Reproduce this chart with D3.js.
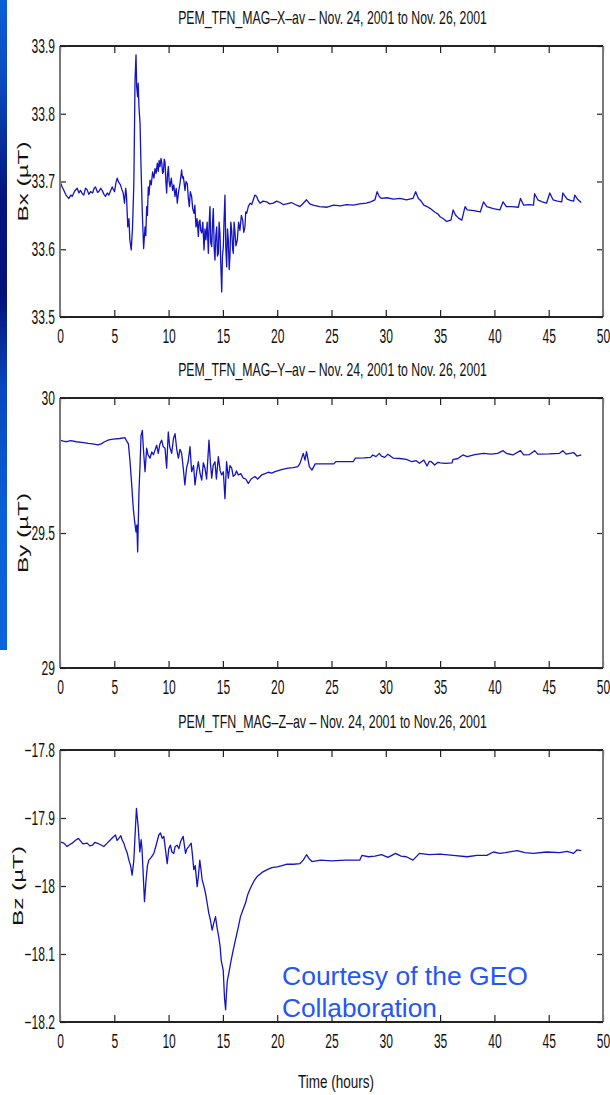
<!DOCTYPE html>
<html>
<head>
<meta charset="utf-8">
<script src="https://cdn.jsdelivr.net/npm/d3@7"></script>
<style>
  html, body { margin: 0; padding: 0; background: #fff; }
  svg { display: block; }
  text { font-family: "Liberation Sans", Arial, sans-serif; fill: #111; }
</style>
</head>
<body>
<svg id="chart" width="610" height="1095"></svg>
<script>
// ---------- DATA ----------
const xTicks = [0, 5, 10, 15, 20, 25, 30, 35, 40, 45, 50];
const titles = [
  "PEM_TFN_MAG–X–av – Nov. 24, 2001 to Nov. 26, 2001",
  "PEM_TFN_MAG–Y–av – Nov. 24, 2001 to Nov. 26, 2001",
  "PEM_TFN_MAG–Z–av – Nov. 24, 2001 to Nov.26, 2001"
];
const yLabels = ["Bx  (µT)", "By  (µT)", "Bz  (µT)"];
const yDomains = [[33.5, 33.9], [29, 30], [-18.2, -17.8]];
const yTicksX = [33.5, 33.6, 33.7, 33.8, 33.9];
const yTicksY = [29, 29.5, 30];
const yTicksZ = [-18.2, -18.1, -18, -17.9, -17.8];
const xLabel = "Time (hours)";
const credit = ["Courtesy of the GEO", "Collaboration"];

const bxT = [0.0,0.2,0.35,0.55,0.81,1.0,1.12,1.35,1.58,1.75,1.89,2.05,2.19,2.35,2.5,2.65,2.81,3.0,3.15,3.27,3.45,3.57,3.75,3.88,4.05,4.19,4.35,4.5,4.65,4.81,5.02,5.15,5.27,5.4,5.57,5.7,5.82,5.94,6.05,6.12,6.24,6.35,6.43,6.56,6.68,6.8,6.91,7.0,7.06,7.15,7.2,7.27,7.37,7.46,7.58,7.70,7.83,7.9,7.98,8.05,8.13,8.2,8.29,8.4,8.53,8.65,8.75,8.85,8.96,9.05,9.13,9.21,9.3,9.36,9.45,9.52,9.6,9.67,9.75,9.82,9.9,9.98,10.05,10.13,10.25,10.37,10.48,10.59,10.7,10.8,10.92,11.05,11.2,11.28,11.36,11.45,11.51,11.6,11.72,11.82,11.91,12.0,12.12,12.22,12.34,12.42,12.52,12.62,12.74,12.8,12.89,12.95,13.05,13.15,13.26,13.35,13.44,13.55,13.66,13.74,13.81,13.88,13.97,14.05,14.12,14.2,14.27,14.35,14.43,14.5,14.58,14.65,14.73,14.8,14.89,14.96,15.04,15.1,15.19,15.27,15.35,15.42,15.5,15.58,15.65,15.73,15.81,15.9,15.96,16.03,16.11,16.2,16.33,16.45,16.57,16.7,16.82,16.92,17.03,17.1,17.19,17.34,17.5,17.65,17.8,17.95,18.11,18.25,18.42,18.7,19.03,19.3,19.64,19.95,20.26,20.55,20.87,21.3,21.8,22.1,22.4,22.7,23.0,23.3,23.9,24.6,25.2,25.8,26.4,27.0,27.6,28.2,28.6,29.0,29.2,29.4,29.6,30.1,30.7,31.3,31.9,32.5,32.75,33.0,33.2,33.5,33.8,34.1,34.5,34.8,35.0,35.3,35.6,36.0,36.2,36.4,36.7,37.0,37.3,37.5,38.1,38.7,39.0,39.3,39.9,40.5,40.8,41.1,41.6,42.2,42.4,42.7,43.2,43.6,43.7,44.0,44.4,44.8,45.1,45.4,45.8,46.2,46.3,46.7,47.0,47.3,47.4,47.7,48.0];
const bxV = [33.700,33.692,33.687,33.680,33.675,33.680,33.678,33.686,33.690,33.683,33.687,33.682,33.680,33.690,33.688,33.681,33.685,33.683,33.690,33.692,33.684,33.685,33.690,33.687,33.681,33.678,33.683,33.680,33.686,33.692,33.685,33.698,33.705,33.699,33.695,33.688,33.683,33.668,33.690,33.680,33.633,33.645,33.614,33.599,33.633,33.697,33.850,33.887,33.840,33.825,33.845,33.810,33.786,33.722,33.653,33.601,33.633,33.620,33.663,33.650,33.692,33.680,33.702,33.695,33.714,33.705,33.719,33.712,33.727,33.715,33.731,33.722,33.734,33.729,33.712,33.714,33.733,33.729,33.700,33.683,33.710,33.722,33.700,33.692,33.705,33.687,33.695,33.678,33.690,33.668,33.685,33.697,33.717,33.705,33.707,33.695,33.687,33.700,33.697,33.675,33.663,33.685,33.678,33.660,33.653,33.665,33.633,33.645,33.619,33.640,33.643,33.628,33.624,33.640,33.599,33.630,33.614,33.640,33.594,33.640,33.663,33.610,33.604,33.640,33.660,33.600,33.584,33.620,33.633,33.590,33.594,33.640,33.624,33.580,33.537,33.590,33.604,33.640,33.680,33.600,33.574,33.630,33.614,33.570,33.589,33.640,33.628,33.600,33.594,33.640,33.626,33.605,33.614,33.640,33.628,33.650,33.643,33.625,33.633,33.655,33.653,33.663,33.668,33.666,33.673,33.680,33.678,33.672,33.668,33.671,33.670,33.667,33.668,33.671,33.669,33.666,33.667,33.669,33.665,33.663,33.668,33.673,33.667,33.665,33.663,33.662,33.665,33.664,33.666,33.665,33.667,33.668,33.670,33.673,33.685,33.678,33.675,33.676,33.674,33.675,33.673,33.675,33.685,33.675,33.672,33.665,33.663,33.660,33.655,33.652,33.648,33.645,33.641,33.643,33.658,33.651,33.646,33.643,33.663,33.658,33.657,33.655,33.670,33.663,33.660,33.658,33.670,33.663,33.663,33.662,33.675,33.665,33.666,33.665,33.682,33.673,33.670,33.668,33.683,33.673,33.671,33.670,33.683,33.674,33.672,33.671,33.680,33.673,33.669];

const byT = [0.0,0.3,0.6,1.0,1.5,2.0,2.6,3.0,3.5,3.8,4.1,4.5,4.9,5.5,5.99,6.14,6.3,6.45,6.6,6.75,6.88,7.0,7.08,7.15,7.27,7.38,7.46,7.58,7.7,7.83,7.98,8.1,8.29,8.45,8.6,8.75,8.9,9.05,9.2,9.36,9.5,9.67,9.82,9.97,10.1,10.28,10.45,10.59,10.75,10.9,11.05,11.2,11.35,11.5,11.65,11.8,11.97,12.12,12.3,12.43,12.6,12.74,12.9,13.05,13.2,13.35,13.5,13.72,13.85,13.97,14.1,14.27,14.4,14.58,14.75,14.88,15.04,15.19,15.34,15.5,15.65,15.81,15.95,16.11,16.25,16.42,16.65,16.88,17.1,17.34,17.6,17.95,18.2,18.57,18.9,19.18,19.5,19.8,20.4,21.0,21.5,21.9,22.1,22.4,22.56,22.7,22.96,23.2,23.5,24.3,25.2,25.4,26.2,27.0,27.2,28.0,28.6,28.8,29.1,29.4,29.6,29.9,30.2,30.7,31.3,31.9,32.4,32.8,33.1,33.5,33.8,34.0,34.2,34.5,34.8,35.0,35.5,36.1,36.2,36.6,37.1,37.5,38.2,39.0,39.7,40.3,40.8,41.1,41.7,42.4,42.7,43.2,43.7,44.0,45.0,46.0,46.3,46.6,47.3,47.6,48.0];
const byV = [29.844,29.840,29.838,29.842,29.838,29.836,29.832,29.830,29.826,29.830,29.838,29.845,29.848,29.850,29.853,29.840,29.830,29.764,29.680,29.590,29.540,29.504,29.530,29.430,29.652,29.760,29.860,29.880,29.800,29.727,29.814,29.790,29.777,29.800,29.790,29.807,29.825,29.795,29.830,29.844,29.820,29.814,29.740,29.874,29.820,29.795,29.850,29.868,29.810,29.777,29.810,29.795,29.740,29.678,29.740,29.764,29.820,29.727,29.750,29.678,29.730,29.764,29.720,29.696,29.760,29.740,29.700,29.844,29.760,29.703,29.750,29.764,29.700,29.783,29.730,29.715,29.727,29.627,29.764,29.703,29.750,29.740,29.710,29.715,29.730,29.715,29.720,29.703,29.700,29.684,29.700,29.709,29.700,29.715,29.720,29.725,29.722,29.727,29.735,29.740,29.742,29.746,29.758,29.795,29.770,29.801,29.746,29.733,29.756,29.756,29.756,29.764,29.764,29.764,29.777,29.778,29.780,29.789,29.783,29.795,29.785,29.780,29.792,29.777,29.776,29.773,29.764,29.768,29.758,29.770,29.748,29.765,29.764,29.752,29.762,29.760,29.758,29.760,29.773,29.775,29.789,29.783,29.790,29.795,29.792,29.795,29.805,29.795,29.789,29.805,29.789,29.790,29.805,29.792,29.793,29.795,29.805,29.792,29.798,29.785,29.789];

const bzT = [0.0,0.35,0.66,0.9,1.12,1.4,1.7,2.1,2.5,2.75,3.0,3.2,3.42,3.7,4.03,4.35,4.65,4.9,5.11,5.25,5.42,5.6,5.72,5.9,6.03,6.2,6.34,6.5,6.64,6.8,6.95,7.04,7.12,7.2,7.35,7.47,7.55,7.63,7.78,7.93,8.05,8.18,8.4,8.64,8.85,9.1,9.25,9.41,9.56,9.7,9.87,10.02,10.17,10.3,10.48,10.6,10.79,10.95,11.1,11.34,11.45,11.56,11.7,11.86,12.08,12.2,12.32,12.45,12.63,12.75,12.87,13.0,13.09,13.25,13.4,13.55,13.7,13.85,14.01,14.15,14.32,14.45,14.62,14.75,14.84,15.03,15.15,15.25,15.32,15.4,15.55,15.7,15.9,16.16,16.4,16.62,16.85,17.08,17.3,17.54,17.85,18.16,18.6,19.08,19.5,20.0,20.45,20.9,21.5,22.1,22.4,22.7,22.95,23.2,24.0,25.0,26.3,27.6,27.8,28.4,29.0,29.6,30.2,30.9,31.4,31.9,32.5,33.1,34.0,35.0,36.2,37.5,38.4,39.3,39.9,40.5,41.0,42.1,42.8,43.6,44.8,46.0,46.7,47.3,47.6,48.0];
const bzV = [-17.935,-17.937,-17.942,-17.939,-17.937,-17.933,-17.930,-17.938,-17.937,-17.941,-17.940,-17.936,-17.937,-17.939,-17.942,-17.937,-17.932,-17.928,-17.925,-17.933,-17.930,-17.926,-17.932,-17.938,-17.945,-17.952,-17.962,-17.970,-17.984,-17.962,-17.913,-17.886,-17.900,-17.913,-17.950,-17.932,-17.945,-17.972,-18.023,-17.990,-17.970,-17.962,-17.958,-17.952,-17.940,-17.925,-17.922,-17.930,-17.927,-17.945,-17.967,-17.945,-17.940,-17.950,-17.952,-17.942,-17.940,-17.945,-17.935,-17.927,-17.940,-17.952,-17.945,-17.942,-17.937,-17.955,-17.976,-17.970,-18.001,-17.985,-17.962,-17.978,-17.991,-18.000,-18.011,-18.025,-18.040,-18.050,-18.065,-18.055,-18.045,-18.060,-18.075,-18.090,-18.109,-18.124,-18.165,-18.182,-18.160,-18.140,-18.128,-18.114,-18.098,-18.079,-18.062,-18.045,-18.035,-18.025,-18.012,-18.003,-17.993,-17.986,-17.980,-17.976,-17.973,-17.972,-17.970,-17.968,-17.968,-17.967,-17.962,-17.954,-17.960,-17.964,-17.962,-17.963,-17.962,-17.962,-17.955,-17.957,-17.956,-17.954,-17.958,-17.952,-17.956,-17.957,-17.962,-17.952,-17.954,-17.953,-17.955,-17.957,-17.955,-17.955,-17.950,-17.952,-17.951,-17.948,-17.951,-17.952,-17.950,-17.951,-17.949,-17.952,-17.947,-17.948];

// ---------- LAYOUT ----------
const svg = d3.select("#chart");
const left = 60, right = 603;
const panelBoxes = [{top: 46, bottom: 317}, {top: 398, bottom: 668}, {top: 750, bottom: 1022}];
const series = [[bxT, bxV], [byT, byV], [bzT, bzV]];
const yTickSets = [yTicksX, yTicksY, yTicksZ];
const yLabelX = [28, 28, 23];
const lineColor = "#1414c0";
const SX = 0.62;       // horizontal condensing of MATLAB-like labels
const tickFont = 19.5;

// place a text so that its run has a given length, by scaling along its own direction
function fitText(parent, str, tx, ty, targetLen, fontSize, opts = {}) {
  const t = parent.append("text")
    .attr("font-size", fontSize)
    .attr("text-anchor", opts.anchor || "middle")
    .text(str);
  if (opts.fill) t.style("fill", opts.fill);
  const natural = t.node().getComputedTextLength() || targetLen;
  const s = targetLen / natural;
  t.attr("transform", `translate(${tx},${ty})${opts.rotate ? " rotate(" + opts.rotate + ")" : ""} scale(${s},1)`);
  return t;
}

// blue slide strip at left
const defs = svg.append("defs");
const grad = defs.append("linearGradient").attr("id", "strip").attr("x1", 0).attr("y1", 0).attr("x2", 0).attr("y2", 1);
[[0, "#0b5fd8"], [0.12, "#0a4cc0"], [0.3, "#03167e"], [0.45, "#021078"], [0.6, "#0a48bf"], [0.8, "#0a5fd8"], [1, "#0c64dc"]]
  .forEach(([o, c]) => grad.append("stop").attr("offset", o).attr("stop-color", c));
svg.append("rect").attr("x", 0).attr("y", 0).attr("width", 7).attr("height", 650).attr("fill", "url(#strip)");

const fmt = v => (Math.round(v * 10) / 10).toString().replace("-", "−");

const x = d3.scaleLinear().domain([0, 50]).range([left, right]);

panelBoxes.forEach((b, i) => {
  const y = d3.scaleLinear().domain(yDomains[i]).range([b.bottom, b.top]);
  const g = svg.append("g");

  // title
  fitText(g, titles[i], (178 + 487) / 2, b.top - 22, 309, 17.5);

  // data line
  const [ts, vs] = series[i];
  const pts = ts.map((t, k) => [t, vs[k]]);
  g.append("path")
    .datum(pts)
    .attr("fill", "none")
    .attr("stroke", lineColor)
    .attr("stroke-width", 1.3)
    .attr("stroke-linejoin", "round")
    .attr("d", d3.line().x(d => x(d[0])).y(d => y(d[1])));

  // axes
  const bottomAx = g.append("g").attr("transform", `translate(0,${b.bottom})`)
    .call(d3.axisBottom(x).tickValues(xTicks).tickSizeInner(-7).tickSizeOuter(0).tickPadding(12).tickFormat(d3.format("d")));
  const topAx = g.append("g").attr("transform", `translate(0,${b.top})`)
    .call(d3.axisTop(x).tickValues(xTicks).tickSizeInner(-7).tickSizeOuter(0).tickFormat(""));
  const leftAx = g.append("g").attr("transform", `translate(${left},0)`)
    .call(d3.axisLeft(y).tickValues(yTickSets[i]).tickSizeInner(-6).tickSizeOuter(0).tickPadding(5).tickFormat(fmt));
  const rightAx = g.append("g").attr("transform", `translate(${right},0)`)
    .call(d3.axisRight(y).tickValues(yTickSets[i]).tickSizeInner(-6).tickSizeOuter(0).tickFormat(""));

  [bottomAx, topAx, leftAx, rightAx].forEach(a => {
    a.select(".domain").remove();
    a.selectAll(".tick line").attr("stroke", "#222").attr("stroke-width", 1.2);
    a.selectAll(".tick text")
      .attr("font-family", "Liberation Sans, Arial, sans-serif")
      .attr("font-size", tickFont).attr("fill", "#111")
      .attr("transform", `scale(${SX},1)`);
  });
  leftAx.selectAll(".tick text").attr("x", -5 / SX);

  // frame
  g.append("line").attr("x1", left).attr("x2", left).attr("y1", b.top).attr("y2", b.bottom).attr("stroke", "#7a7a7a").attr("stroke-width", 2);
  g.append("line").attr("x1", right).attr("x2", right).attr("y1", b.top).attr("y2", b.bottom).attr("stroke", "#7a7a7a").attr("stroke-width", 2);
  g.append("line").attr("x1", left).attr("x2", right).attr("y1", b.top).attr("y2", b.top).attr("stroke", "#222").attr("stroke-width", 2);
  g.append("line").attr("x1", left).attr("x2", right).attr("y1", b.bottom).attr("y2", b.bottom).attr("stroke", "#222").attr("stroke-width", 2);

  // y label
  fitText(g, yLabels[i], yLabelX[i], (b.top + b.bottom) / 2, 80, 14, {rotate: -90});
});

// x label
fitText(svg, xLabel, 336, 1088, 76, 19);

// credit
fitText(svg, credit[0], 282, 985, 246, 26, {anchor: "start", fill: "#2457f5"});
fitText(svg, credit[1], 282, 1017, 155, 26, {anchor: "start", fill: "#2457f5"});
</script>
</body>
</html>
